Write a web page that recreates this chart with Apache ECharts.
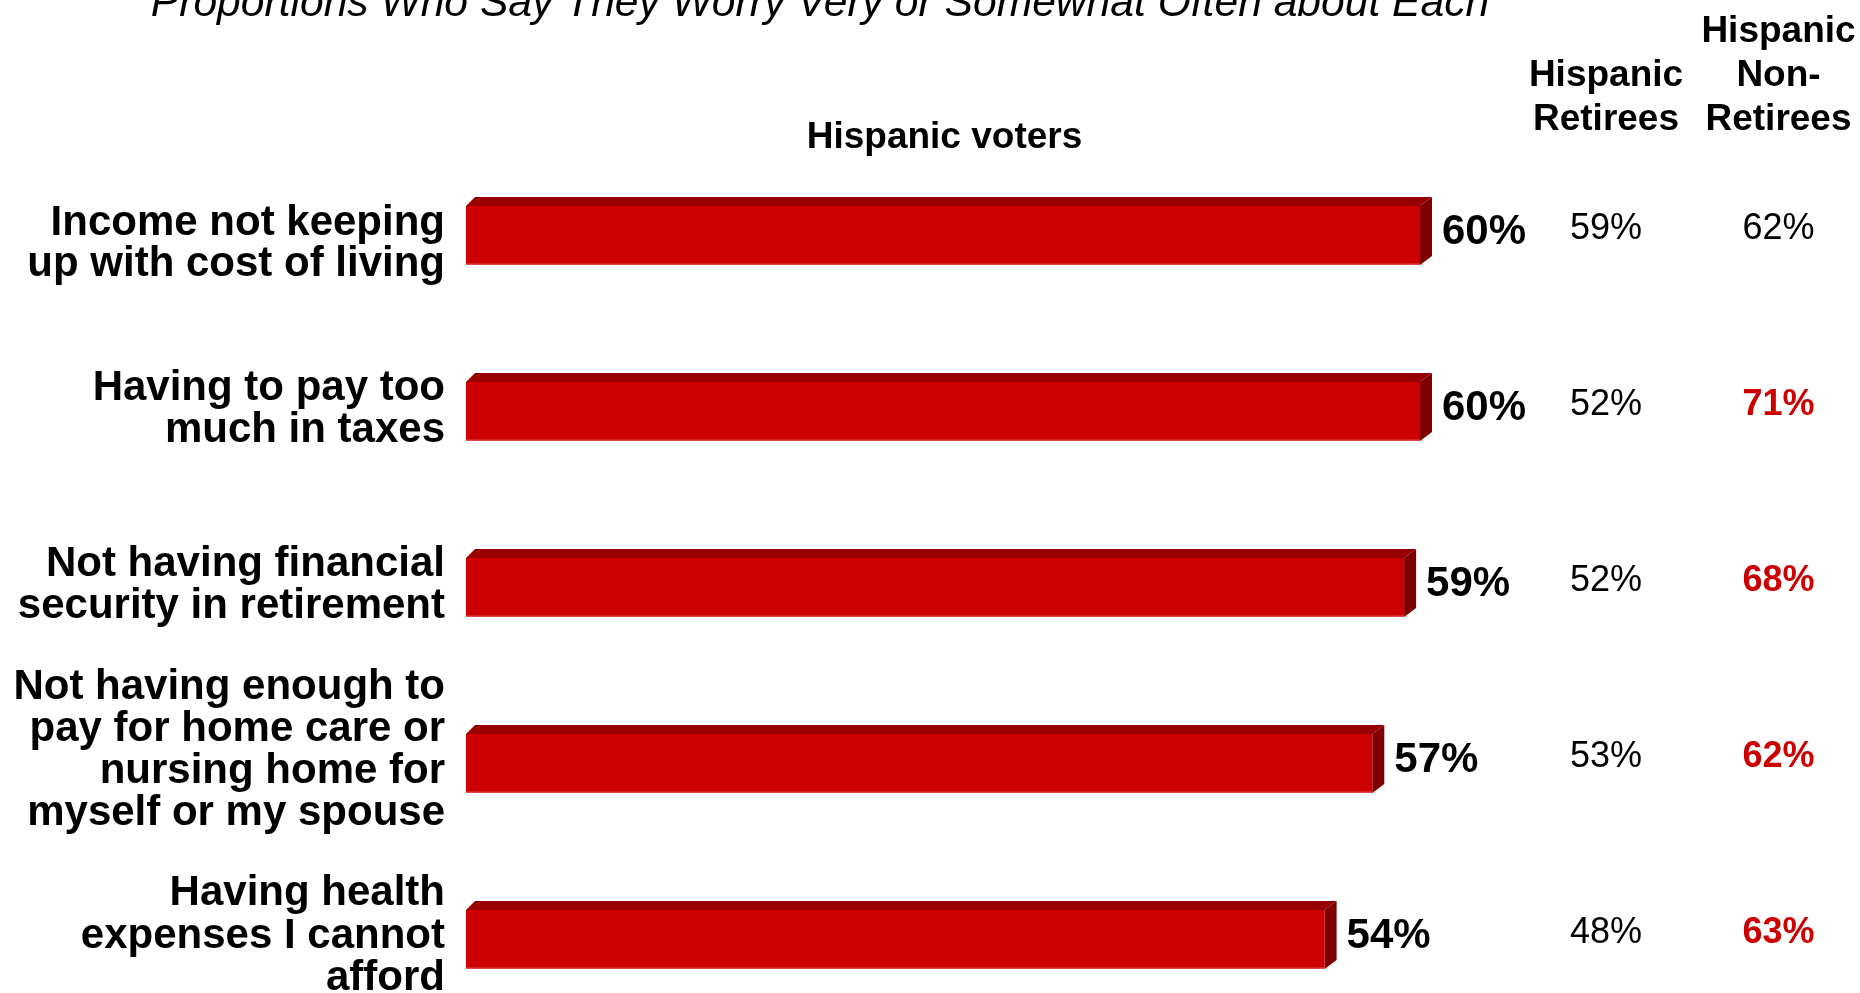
<!DOCTYPE html>
<html>
<head>
<meta charset="utf-8">
<script src="https://cdn.jsdelivr.net/npm/echarts@6/dist/echarts.min.js"></script>
<style>
html,body{margin:0;padding:0;background:#fff;}
#chart{width:1860px;height:993px;}
</style>
</head>
<body>
<div id="chart"></div>
<script>
// ---- data ----
const titleText = 'Proportions Who Say They Worry Very or Somewhat Often about Each';
const barHeader = 'Hispanic voters';
const categories = [
  'Income not keeping\nup with cost of living',
  'Having to pay too\nmuch in taxes',
  'Not having financial\nsecurity in retirement',
  'Not having enough to\npay for home care or\nnursing home for\nmyself or my spouse',
  'Having health\nexpenses I cannot\nafford'
];
const hispanicVoters = [60, 60, 59, 57, 54];
const columnHeaders = ['Hispanic\nRetirees', 'Hispanic\nNon-\nRetirees'];
const retirees = [59, 52, 52, 53, 48];
const nonRetirees = [62, 71, 68, 62, 63];
const nonRetireesHighlight = [false, true, true, true, true];

// ---- layout / style (not data) ----
const FONT = "'Liberation Sans', Arial, Helvetica, sans-serif";
const labelNudge = [12.5, 2.5, 2, -9, 1];
const labelLineHeight = [41, 42, 42, 42, 42.5];
const RED = '#CC0000', TOP = '#990000', SIDE = '#7F0000', EDGE = '#E04848';

function renderBar(params, api) {
  const v = api.value(0), idx = api.value(1);
  const p0 = api.coord([0, idx]);
  const p1 = api.coord([v, idx]);
  const band = api.size([0, 1])[1];
  const half = band * 0.193;   // half of full 3D height
  const depth = band * 0.051;  // top face depth
  const ldx = 9, rdx = 12;
  const yc = p0[1];
  const xl = p0[0], xr = p1[0];
  const yTop = yc - half, yFront = yc - half + depth, yBot = yc + half;
  return {
    type: 'group',
    children: [
      { type: 'polygon', shape: { points: [[xl, yFront], [xl + ldx, yTop], [xr + rdx, yTop], [xr, yFront]] }, style: { fill: TOP } },
      { type: 'polygon', shape: { points: [[xr, yFront], [xr + rdx, yTop], [xr + rdx, yBot - depth], [xr, yBot]] }, style: { fill: SIDE } },
      { type: 'rect', shape: { x: xl, y: yFront, width: xr - xl, height: yBot - yFront }, style: { fill: RED } },
      { type: 'line', shape: { x1: xl, y1: yBot - 0.75, x2: xr, y2: yBot - 0.75 }, style: { stroke: EDGE, lineWidth: 1.5 } },
      { type: 'text', style: { text: v + '%', x: xr + rdx + 10, y: yc + 1, verticalAlign: 'middle', align: 'left',
          fill: '#000', font: 'bold 42px ' + FONT } },
      { type: 'text', style: { text: categories[idx], x: xl - 21, y: yc + labelNudge[idx], verticalAlign: 'middle', align: 'right',
          lineHeight: labelLineHeight[idx], fill: '#000', font: 'bold 42px ' + FONT } }
    ]
  };
}

const colSeriesData = [];
retirees.forEach((v, i) => colSeriesData.push({ value: [0, i, v] }));
nonRetirees.forEach((v, i) => {
  const item = { value: [1, i, v] };
  if (nonRetireesHighlight[i]) item.label = { color: RED, fontWeight: 'bold' };
  colSeriesData.push(item);
});

const chart = echarts.init(document.getElementById('chart'), null, { renderer: 'canvas' });
chart.setOption({
  animation: false,
  backgroundColor: '#fff',
  textStyle: { fontFamily: FONT },
  title: [
    { text: titleText, left: 820, textAlign: 'center', top: -17.3, padding: 0,
      textStyle: { fontSize: 42.6, fontStyle: 'italic', fontWeight: 'normal', color: '#000', lineHeight: 43, fontFamily: FONT } },
    { text: barHeader, left: 944.5, textAlign: 'center', top: 119.5, padding: 0,
      textStyle: { fontSize: 37, fontWeight: 'bold', color: '#000', lineHeight: 37, fontFamily: FONT } }
  ],
  grid: [
    { left: 466, top: 231, width: 985.8, height: 704 },
    { left: 1606, top: 231, width: 172.5, height: 704 }
  ],
  xAxis: [
    { gridIndex: 0, type: 'value', min: 0, max: 62, show: false },
    { gridIndex: 1, type: 'category', data: columnHeaders, position: 'top', boundaryGap: false,
      axisLine: { show: false }, axisTick: { show: false }, splitLine: { show: false },
      axisLabel: { interval: 0, margin: 89.5, fontSize: 37, fontWeight: 'bold', lineHeight: 44, color: '#000', fontFamily: FONT, align: 'center' } }
  ],
  yAxis: [
    { gridIndex: 0, type: 'category', data: categories, inverse: true, boundaryGap: false, show: false },
    { gridIndex: 1, type: 'category', data: categories, inverse: true, boundaryGap: false, show: false }
  ],
  series: [
    { type: 'custom', xAxisIndex: 0, yAxisIndex: 0, renderItem: renderBar, clip: false,
      data: hispanicVoters.map((v, i) => [v, i]) },
    { type: 'scatter', xAxisIndex: 1, yAxisIndex: 1, symbolSize: 1,
      itemStyle: { color: 'rgba(0,0,0,0)', opacity: 1 },
      emphasis: { disabled: true },
      data: colSeriesData,
      label: { show: true, position: 'inside', offset: [0, -1.5], fontSize: 36, color: '#000', opacity: 1,
        textBorderWidth: 0, fontFamily: FONT, formatter: p => p.value[2] + '%' } }
  ]
});
</script>
</body>
</html>
